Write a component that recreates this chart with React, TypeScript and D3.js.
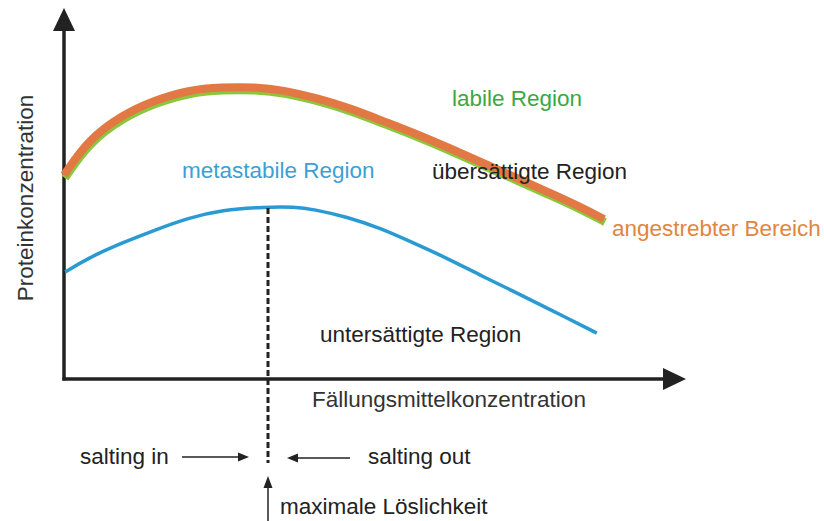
import React from "react";
import * as d3 from "d3";

// Curve data (abstract units: x = precipitant conc., y = protein conc.)
const targetX = [0, 4, 9.7, 15.2, 20.7, 26.3, 31.8, 36.5, 42.2, 47.7, 53.2, 58.8, 64.3, 69.8, 75.5, 81, 86.5, 90];
const targetY = [55.1, 64.6, 71.4, 75.4, 78.1, 78.9, 78.9, 78.1, 75.9, 73.2, 69.7, 66.2, 62.4, 58.4, 54.3, 50.3, 46.2, 43.2];
const solX = [0.2, 4, 9.7, 15.2, 20.7, 26.3, 33.5, 38.5, 41.5, 47.2, 52.7, 58.2, 63.8, 69.3, 74.8, 80.5, 88.8];
const solY = [28.9, 32.7, 36.8, 40.3, 43.5, 45.7, 46.5, 46.5, 45.9, 43.8, 40.8, 36.8, 32.7, 28.1, 23.8, 19.2, 12.4];
const maxSolubilityX = 34;

const W = 824, H = 521;
const x = d3.scaleLinear().domain([0, 100]).range([64, 664]);
const y = d3.scaleLinear().domain([0, 100]).range([379, 9]);

const line = d3.line<[number, number]>()
  .x(d => x(d[0]))
  .y(d => y(d[1]))
  .curve(d3.curveBasis);

const target = targetX.map((v, i) => [v, targetY[i]] as [number, number]);
const sol = solX.map((v, i) => [v, solY[i]] as [number, number]);

const font = "'Liberation Sans', Arial, sans-serif";
const FS = 22.5;

export default function App() {
  const x0 = x(0);
  const y0 = y(0);
  const peakX = x(maxSolubilityX);
  const peakY = y(d3.max(solY) as number) + 1;
  return (
    <svg width={W} height={H} style={{ position: "absolute", left: 0, top: 0 }} fontFamily={font}>
      <rect width={W} height={H} fill="#fff" />
      {/* axes */}
      <line x1={x0} y1={y0 + 1.5} x2={x0} y2={28} stroke="#222" strokeWidth={3.5} />
      <polygon points={`${x0},8 ${x0 - 11},31 ${x0 + 11},31`} fill="#222" />
      <line x1={x0 - 1.5} y1={y0} x2={666} y2={y0} stroke="#222" strokeWidth={3.5} />
      <polygon points={`686,${y0} 663,${y0 - 11} 663,${y0 + 11}`} fill="#222" />

      {/* curves */}
      <path d={line(target) || ""} fill="none" stroke="#8cc63f" strokeWidth={8} transform="translate(1,3)" />
      <path d={line(target) || ""} fill="none" stroke="#e27843" strokeWidth={8} />
      <path d={line(sol) || ""} fill="none" stroke="#2a9bd2" strokeWidth={3.5} />

      {/* dashed max solubility */}
      <line x1={peakX} y1={peakY} x2={peakX} y2={463} stroke="#222" strokeWidth={3} strokeDasharray="6 3" />

      {/* labels */}
      <text transform="translate(33,198) rotate(-90)" textAnchor="middle" fontSize={FS} fill="#333">Proteinkonzentration</text>
      <text x={452} y={106} fontSize={FS} fill="#3aa843">labile Region</text>
      <text x={182} y={178} fontSize={FS} fill="#3d9fd3">metastabile Region</text>
      <text x={432} y={179} fontSize={FS} fill="#222">übersättigte Region</text>
      <text x={612} y={236} fontSize={FS} fill="#e0853f">angestrebter Bereich</text>
      <text x={320} y={342} fontSize={FS} fill="#222">untersättigte Region</text>
      <text x={312} y={407} fontSize={FS} fill="#333">Fällungsmittelkonzentration</text>
      <text x={80} y={464} fontSize={FS} fill="#222">salting in</text>
      <text x={368} y={464} fontSize={FS} fill="#222">salting out</text>
      <text x={280} y={514} fontSize={FS} fill="#222">maximale Löslichkeit</text>

      {/* small arrows */}
      <line x1={182} y1={457} x2={240} y2={457} stroke="#222" strokeWidth={1.5} />
      <polygon points="249,457 238,452.5 238,461.5" fill="#222" />
      <line x1={350} y1={458} x2={296} y2={458} stroke="#222" strokeWidth={1.5} />
      <polygon points="287,458 298,453.5 298,462.5" fill="#222" />
      <line x1={peakX} y1={521} x2={peakX} y2={486} stroke="#222" strokeWidth={1.5} />
      <polygon points={`${peakX},476 ${peakX - 4.5},488 ${peakX + 4.5},488`} fill="#222" />
    </svg>
  );
}
